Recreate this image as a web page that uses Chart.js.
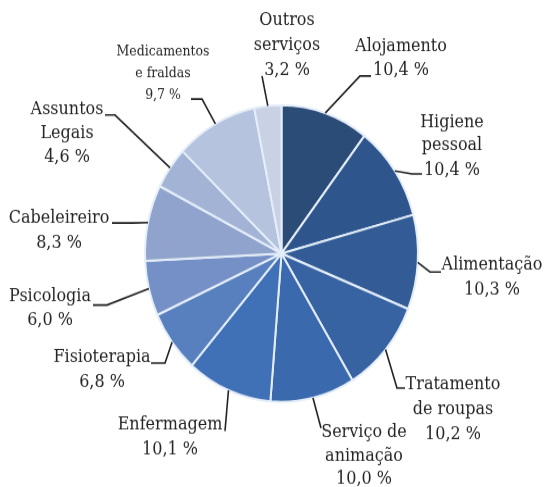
<!DOCTYPE html>
<html>
<head>
<meta charset="utf-8">
<script src="https://cdn.jsdelivr.net/npm/chart.js@4/dist/chart.umd.min.js"></script>
<style>
  html, body { margin: 0; padding: 0; background: #fff; }
  #wrap { width: 544px; height: 487px; overflow: hidden; position: relative; }
  /* the source picture is stretched vertically, so the whole canvas is too */
  #pie { transform: scaleY(1.087); transform-origin: 0 0; display: block; }
</style>
</head>
<body>
<div id="wrap"><canvas id="pie" width="544" height="448"></canvas></div>
<script>
// Services, clockwise from 12 o'clock
const categories = [
    ["Alojamento"],
    ["Higiene", "pessoal"],
    ["Alimentação"],
    ["Tratamento", "de roupas"],
    ["Serviço de", "animação"],
    ["Enfermagem"],
    ["Fisioterapia"],
    ["Psicologia"],
    ["Cabeleireiro"],
    ["Assuntos", "Legais"],
    ["Medicamentos", "e fraldas"],
    ["Outros", "serviços"],
];
const shares = [10.4, 10.4, 10.3, 10.2, 10.0, 10.1, 6.8, 6.0, 8.3, 4.6, 9.7, 3.2];

const sliceColors = [
    "#2c4c78", "#2f558d", "#335c97", "#3763a2", "#3b69ad", "#4070b6",
    "#5880bf", "#7490c6", "#8fa3cc", "#a3b3d5", "#b6c3de", "#c9d1e4",
];

const SY = 1.087;   // vertical stretch applied to the canvas

// Where each label sits (page pixels): text centre x, line centres y,
// and the leader-line bends after leaving the slice edge.
const labelLayout = [
    { x: 401, y: [47, 70],        size: 16, path: [[360, 76], [371, 76]] },
    { x: 452, y: [123, 146, 170], size: 16, path: [[412, 174], [422, 174]] },
    { x: 492, y: [265, 290],      size: 16, path: [[430, 272], [441, 272]] },
    { x: 453, y: [385, 410, 435], size: 16, path: [[397, 388], [405, 388]] },
    { x: 364, y: [432, 456, 479], size: 16, path: [[321, 428]] },
    { x: 170, y: [425, 450],      size: 16, path: [[225, 431]] },
    { x: 102, y: [357, 382],      size: 16, path: [[165, 363], [151, 363]] },
    { x: 50,  y: [297, 320],      size: 16, path: [[107, 305], [93, 305]] },
    { x: 59,  y: [218, 243],      size: 16, path: [[133, 223], [112, 223]] },
    { x: 67,  y: [110, 133, 157], size: 16, path: [[115, 115], [105, 115]] },
    { x: 163, y: [52, 74, 95],    size: 12.5, path: [[202, 99], [191, 99]] },
    { x: 287, y: [20, 45, 70],    size: 16, path: [[262, 76]] },
];

function pctText(v) {
    return v.toFixed(1).replace(".", ",") + " %";
}

const leaderLabels = {
    id: "leaderLabels",
    afterDatasetsDraw(chart) {
        const ctx = chart.ctx;
        const arcs = chart.getDatasetMeta(0).data;
        ctx.save();
        arcs.forEach((arc, i) => {
            const lay = labelLayout[i];
            const p = arc.getProps(["x", "y", "startAngle", "endAngle", "outerRadius"], true);
            const mid = (p.startAngle + p.endAngle) / 2;
            // leader line: slice edge -> bends
            ctx.beginPath();
            ctx.moveTo(p.x + p.outerRadius * Math.cos(mid), p.y + p.outerRadius * Math.sin(mid));
            lay.path.forEach(([px, py]) => ctx.lineTo(px, py / SY));
            ctx.strokeStyle = "#222222";
            ctx.lineWidth = 1.6;
            ctx.stroke();

            const lines = categories[i].concat([pctText(shares[i])]);
            ctx.fillStyle = "#252525";
            ctx.font = lay.size + "px 'DejaVu Serif'";
            ctx.textAlign = "center";
            ctx.textBaseline = "middle";
            lines.forEach((t, k) => ctx.fillText(t, lay.x, lay.y[k] / SY));
        });
        ctx.restore();
    },
};

new Chart(document.getElementById("pie"), {
    type: "pie",
    data: {
        labels: categories.map(c => c.join(" ")),
        datasets: [{
            data: shares,
            backgroundColor: sliceColors,
            borderColor: "#e4eef9",
            borderWidth: 2,
        }],
    },
    options: {
        responsive: false,
        animation: false,
        events: [],
        layout: { padding: { left: 144, right: 125, top: 104 / SY, bottom: 448 - 403 / SY } },
        plugins: {
            legend: { display: false },
            tooltip: { enabled: false },
        },
    },
    plugins: [leaderLabels],
});
</script>
</body>
</html>
